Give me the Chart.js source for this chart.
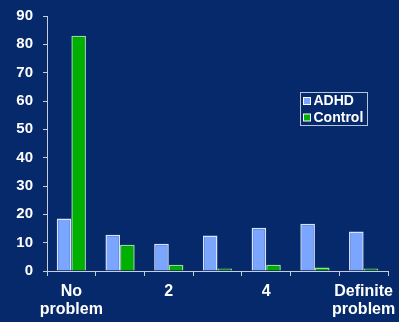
<!DOCTYPE html>
<html>
<head>
<meta charset="utf-8">
<script src="https://cdn.jsdelivr.net/npm/chart.js@4"></script>
<style>
html,body{margin:0;padding:0;background:#05296a;}
#wrap{width:399px;height:322px;}
</style>
</head>
<body>
<div id="wrap"><canvas id="c" width="399" height="322"></canvas></div>
<script>
const categories = [["No","problem"], "", "2", "", "4", "", ["Definite","problem"]];
const seriesNames = ["ADHD", "Control"];
const adhdValues = [18.5, 12.8, 9.6, 12.5, 15.3, 16.7, 13.9];
const controlValues = [83, 9.3, 2.2, 0.9, 2.2, 1.2, 0.9];
const yTicks = [0, 10, 20, 30, 40, 50, 60, 70, 80, 90];

const FONT = "'Liberation Sans', Arial, sans-serif";

const legendBox = {
  id: 'legendBox',
  afterDraw(chart) {
    const ctx = chart.ctx;
    const x = 300.5, y = 92.5, w = 67, h = 33;
    ctx.save();
    ctx.strokeStyle = '#b8c4d8';
    ctx.lineWidth = 1;
    ctx.strokeRect(x, y, w, h);
    ctx.font = 'bold 14px ' + FONT;
    ctx.textBaseline = 'middle';
    chart.data.datasets.forEach((ds, i) => {
      const cy = y + 8.5 + i * 16.5;
      ctx.fillStyle = ds.backgroundColor;
      ctx.fillRect(x + 3, cy - 3.5, 7, 7);
      ctx.strokeStyle = '#ffffff';
      ctx.strokeRect(x + 3, cy - 3.5, 7, 7);
      ctx.fillStyle = '#ffffff';
      ctx.fillText(ds.label, x + 13, cy + 0.5);
    });
    ctx.restore();
  }
};

new Chart(document.getElementById('c'), {
  type: 'bar',
  data: {
    labels: categories,
    datasets: [
      { label: seriesNames[0], data: adhdValues, backgroundColor: '#7aa6ff', borderColor: '#d6e2ff', borderWidth: 1.5 },
      { label: seriesNames[1], data: controlValues, backgroundColor: '#00b000', borderColor: '#8fe08f', borderWidth: 1.5 }
    ]
  },
  options: {
    responsive: false,
    animation: false,
    layout: { padding: { top: 0, right: 11, left: 0, bottom: 0 } },
    datasets: { bar: { categoryPercentage: 0.6, barPercentage: 1.0 } },
    plugins: { legend: { display: false }, tooltip: { enabled: false } },
    scales: {
      x: {
        offset: true,
        grid: { offset: true, drawOnChartArea: false, drawTicks: true, tickLength: 5, color: '#c8ced8', lineWidth: 1 },
        border: { color: '#c8ced8', width: 1 },
        ticks: { color: '#ffffff', font: { family: FONT, size: 16, weight: 'bold', lineHeight: 1.1 }, maxRotation: 0, autoSkip: false, padding: 7 },
        afterFit: s => { s.height = 51; s.paddingLeft = 0; s.paddingRight = 0; }
      },
      y: {
        min: 0, max: 90,
        afterBuildTicks: s => { s.ticks = yTicks.map(v => ({ value: v })); },
        grid: { drawOnChartArea: false, drawTicks: true, tickLength: 4, color: '#c8ced8' },
        border: { color: '#c8ced8', width: 1 },
        ticks: { color: '#ffffff', font: { family: FONT, size: 15, weight: 'bold' }, padding: 10 },
        afterFit: s => { s.width = 47; s.paddingTop = 16; s.paddingBottom = 0; }
      }
    }
  },
  plugins: [legendBox]
});
</script>
</body>
</html>
